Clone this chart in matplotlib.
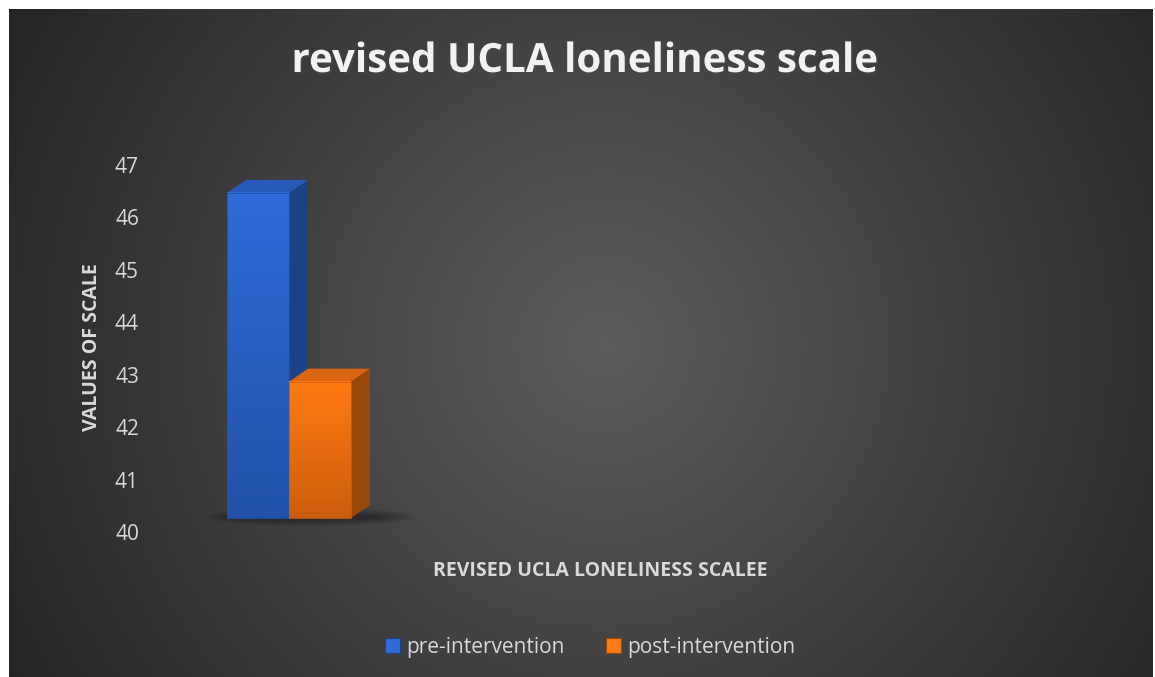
import numpy as np
import matplotlib
matplotlib.use("Agg")
import matplotlib.pyplot as plt
import matplotlib.patheffects as pe
from matplotlib.patches import Polygon, Rectangle, Ellipse
from matplotlib.transforms import ScaledTranslation

# data
title = "revised UCLA loneliness scale"
x_title = "REVISED UCLA LONELINESS SCALEE"
y_title = "VALUES OF SCALE"
series = ["pre-intervention", "post-intervention"]
values = [46.2, 42.6]
y_ticks = [40, 41, 42, 43, 44, 45, 46, 47]

# colours: front top / front bottom / side / top face
FRONT_TOP = ["#2F6BD9", "#FF7B14"]
FRONT_BOT = ["#2151A8", "#CC5D0C"]
SIDE = ["#1E4286", "#9A480A"]
TOPF = ["#2859BA", "#DB6510"]
TXT = "#D9D9D9"
FONT = "Open Sans"

W, H = 1155, 677
fig = plt.figure(figsize=(W / 100, H / 100), dpi=100, facecolor="white")

# dark radial background inside a thin white border
bg = fig.add_axes([9 / W, 0, (W - 11) / W, (H - 9) / H])
bh, bw = H - 9, W - 11
yy, xx = np.mgrid[0:bh, 0:bw]
r = np.hypot(xx - 595, yy - 335) / 690
shade = 92 - 56 * np.clip(r, 0, 1)
bg.imshow(np.dstack([shade] * 3) / 255, aspect="auto", interpolation="bilinear")
bg.set_axis_off()

# main plot area: value 40 at y=532 px, 47 at y=165 px
L, R, T, B = 150, 1130, 165, 532
ax = fig.add_axes([L / W, 1 - B / H, (R - L) / W, (B - T) / H], facecolor="none")
bw_data = 0.2
xlim = (-139 / 310, (R - L - 139) / 310)
ax.set_xlim(*xlim)
ax.set_ylim(y_ticks[0], y_ticks[-1])
ax.set_yticks(y_ticks)
ax.set_xticks([])
for s in ax.spines.values():
    s.set_visible(False)
ax.tick_params(axis="y", length=0, pad=8, labelsize=15, labelcolor=TXT)
for lab in ax.get_yticklabels():
    lab.set_fontfamily(FONT)

# pseudo 3-D offsets (pixels -> data)
px_x = (R - L) / (xlim[1] - xlim[0])
px_y = (B - T) / (y_ticks[-1] - y_ticks[0])
ddx, ddy = 19 / px_x, 13 / px_y
tr = ax.transData + ScaledTranslation(0, 14 / 100, fig.dpi_scale_trans)
base = y_ticks[0]

# soft floor shadow
for k in range(7):
    ax.add_patch(Ellipse((0.07, base + 0.02), 0.66 - k * 0.04, 0.36 - k * 0.045,
                         facecolor="black", alpha=0.06, lw=0, transform=tr, zorder=1))

xs = [-bw_data / 2, bw_data / 2]
for i, (xc, v) in enumerate(zip(xs, values)):
    x0, x1 = xc - bw_data / 2, xc + bw_data / 2
    side = Polygon([(x1, base), (x1, v), (x1 + ddx, v + ddy), (x1 + ddx, base + ddy)],
                   closed=True, facecolor=SIDE[i], lw=0, transform=tr, zorder=2 + i)
    top = Polygon([(x0, v), (x1, v), (x1 + ddx, v + ddy), (x0 + ddx, v + ddy)],
                  closed=True, facecolor=TOPF[i], lw=0, transform=tr, zorder=2 + i)
    ax.add_patch(side)
    ax.add_patch(top)
    grad = np.linspace(0, 1, 100)[:, None]
    c0 = np.array(matplotlib.colors.to_rgb(FRONT_TOP[i]))
    c1 = np.array(matplotlib.colors.to_rgb(FRONT_BOT[i]))
    img = c0[None, None, :] * (1 - grad[..., None]) + c1[None, None, :] * grad[..., None]
    img = np.repeat(img, 2, axis=1)
    ax.imshow(img, extent=(x0, x1, base, v), aspect="auto", transform=tr,
              interpolation="bilinear", zorder=2 + i)
    ax.add_patch(Rectangle((x0, base), bw_data, v - base, facecolor="none",
                           edgecolor=FRONT_BOT[i], lw=0.6, transform=tr, zorder=2 + i))
ax.set_xlim(*xlim)
ax.set_ylim(y_ticks[0], y_ticks[-1])

fig.text(584 / W, 1 - 72 / H, title, ha="center", va="baseline", fontsize=29,
         fontweight="bold", color="#F2F2F2", family=FONT,
         path_effects=[pe.withSimplePatchShadow(offset=(1.5, -1.5), alpha=0.6)])
fig.text(92 / W, 1 - 347 / H, y_title, rotation=90, ha="center", va="center",
         fontsize=14, fontweight="bold", color=TXT, family=FONT)
fig.text(600 / W, 1 - 571 / H, x_title, ha="center", va="center",
         fontsize=14, fontweight="bold", color=TXT, family=FONT)

handles = [Rectangle((0, 0), 1, 1, facecolor=FRONT_TOP[i], edgecolor=SIDE[i], lw=0.8)
           for i in range(2)]
leg = fig.legend(handles, series, loc="center", bbox_to_anchor=(590 / W, 30 / H),
                 ncol=2, frameon=False, handlelength=0.7, handleheight=0.7,
                 handletextpad=0.3, columnspacing=2.0,
                 prop={"family": FONT, "size": 15})
for t in leg.get_texts():
    t.set_color(TXT)

fig.savefig("out.png", dpi=100, facecolor="white")
